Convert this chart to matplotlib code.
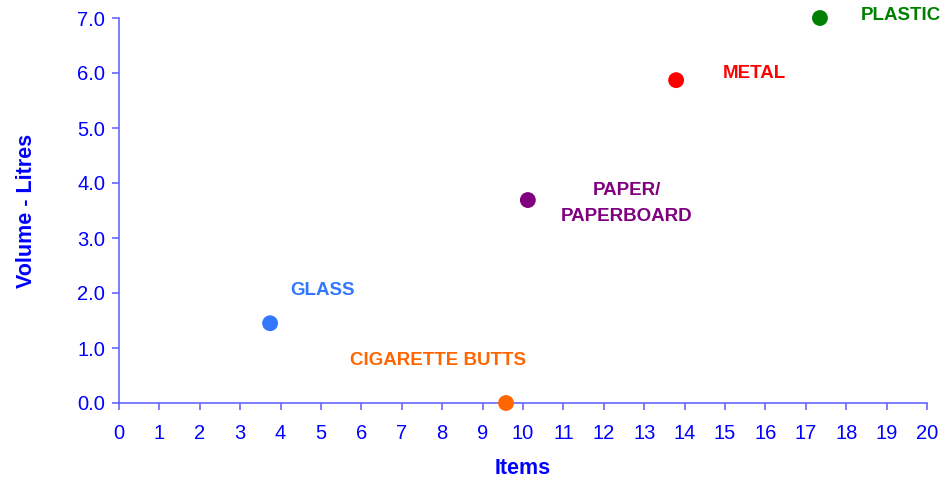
"""
Litter scatter - volume vs items
"""
import matplotlib.pyplot as plt
import matplotlib as mpl

mpl.rcParams.update({
    'font.family': ['Liberation Sans', 'DejaVu Sans'],
    'font.size': 12,
})

categories = ['GLASS', 'CIGARETTE BUTTS', 'PAPER/\nPAPERBOARD', 'METAL', 'PLASTIC']
items = [3.74, 9.58, 10.12, 13.79, 17.35]
volume = [1.45, 0.0, 3.69, 5.87, 7.0]
colors = ['#3377ff', '#ff6600', '#800080', '#ff0000', '#008000']

# label anchor positions in data units
label_x = [4.23, 7.9, 12.57, 14.95, 18.37]
label_y = [2.04, 0.78, 3.63, 6.0, 7.04]
label_ha = ['left', 'center', 'center', 'left', 'left']

axis_col = '#6666ff'
text_col = '#0000ff'

fig = plt.figure(figsize=(9.41, 4.82), dpi=100, facecolor='white')
ax = fig.add_axes([119/941, 79/482, 808/941, 385/482])

ax.scatter(items, volume, s=130, c=colors, zorder=3, clip_on=False, linewidths=0)
for lx, ly, txt, c, ha in zip(label_x, label_y, categories, colors, label_ha):
    ax.text(lx, ly, txt, color=c, fontsize=13.5, fontweight='bold',
            ha=ha, va='center', linespacing=1.65)

ax.set_xlim(0, 20)
ax.set_ylim(0, 7)
ax.set_xticks(range(0, 21))
ax.set_yticks(range(0, 8))
ax.set_yticklabels([f'{v:.1f}' for v in range(0, 8)])

for sp in ['top', 'right']:
    ax.spines[sp].set_visible(False)
for sp in ['left', 'bottom']:
    ax.spines[sp].set_color(axis_col)
    ax.spines[sp].set_linewidth(1.2)
ax.tick_params(colors=axis_col, labelcolor=text_col, labelsize=14.5,
               length=5, width=1.2, direction='out')
ax.tick_params(axis='x', pad=10)
ax.tick_params(axis='y', pad=5)

ax.set_xlabel('Items', color=text_col, fontsize=15.5, fontweight='bold', labelpad=11)
ax.set_ylabel('Volume - Litres', color=text_col, fontsize=15.5, fontweight='bold', labelpad=29)

fig.savefig('out.png', dpi=100, facecolor='white')
